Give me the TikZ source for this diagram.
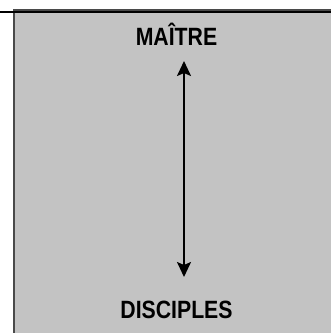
\documentclass[tikz,border=0pt]{standalone}
\usepackage{fontspec}
\setmainfont{Liberation Sans}
\usepackage{tikz}
\usetikzlibrary{arrows.meta,positioning}
\definecolor{Panel}{HTML}{C3C3C3}
\definecolor{Edge}{HTML}{4A4A4A}
\newcommand{\narrow}[1]{\scalebox{0.85}[1]{#1}}

\begin{document}
\begin{tikzpicture}[x=1pt,y=-1pt,
    label/.style={anchor=base,inner sep=0pt,font=\fontsize{25}{30}\selectfont\bfseries},
    arrow/.style={{Stealth[length=15pt,width=14pt,inset=3pt]}-{Stealth[length=15pt,width=14pt,inset=3pt]},line width=2pt,draw=black}
]
\useasboundingbox (0,0) rectangle (331,333);
\fill[Panel] (13,9) rectangle (331,333);
\draw[Edge,line width=2pt] (14,333) -- (14,10) -- (331,10);
\draw[black,line width=1.5pt] (0,12) -- (331,12);
\node[label] (maitre) at (176.5,45) {\narrow{MAÎTRE}};
\node[label] (disciples) at (176.5,318) {\narrow{DISCIPLES}};
\coordinate (haut) at (184,61);
\coordinate (bas) at (184,277);
\draw[arrow] (haut) -- (bas);
\end{tikzpicture}
\end{document}
